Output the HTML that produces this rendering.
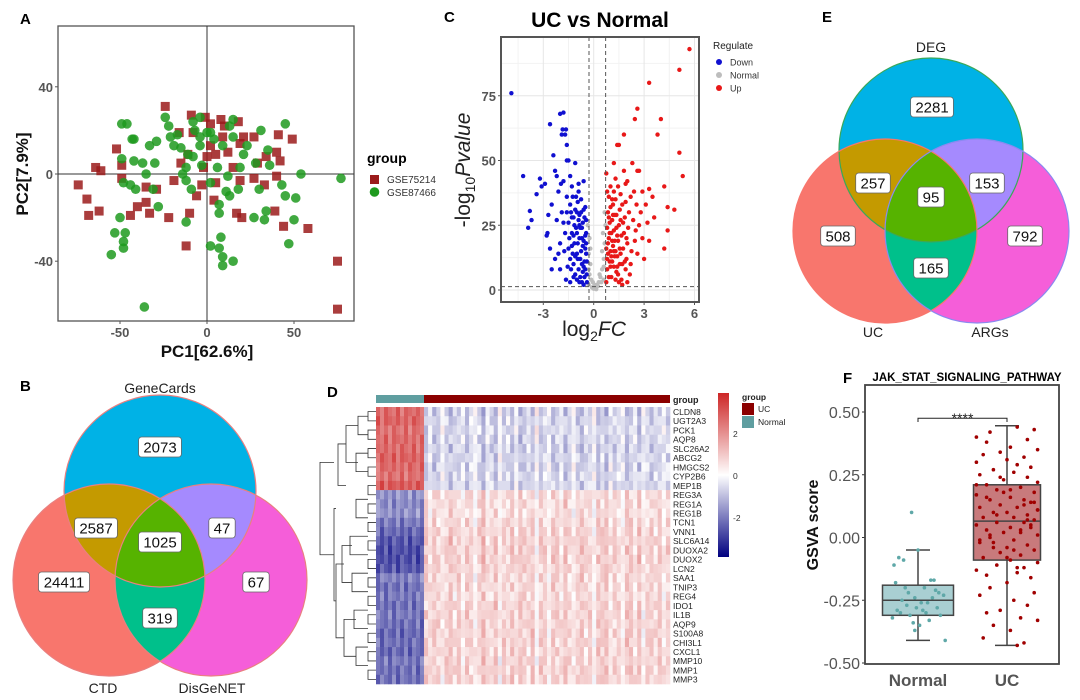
<!DOCTYPE html>
<html><head><meta charset="utf-8">
<style>
html,body{margin:0;padding:0;background:#fff;}
svg{display:block;font-family:"Liberation Sans",sans-serif;}
</style></head>
<body>
<svg id="fig" width="1080" height="700" viewBox="0 0 1080 700" xmlns="http://www.w3.org/2000/svg">
<defs>
<clipPath id="cBA"><circle cx="160" cy="491" r="96"/></clipPath>
<clipPath id="cBB"><circle cx="109" cy="580" r="96"/></clipPath>
<clipPath id="cBC"><circle cx="211" cy="580" r="96"/></clipPath>
<clipPath id="cEA"><circle cx="931" cy="150" r="92"/></clipPath>
<clipPath id="cEB"><circle cx="885" cy="231" r="92"/></clipPath>
<clipPath id="cEC"><circle cx="977" cy="231" r="92"/></clipPath>
<clipPath id="cBAB" clip-path="url(#cBB)"><circle cx="160" cy="491" r="96"/></clipPath>
<clipPath id="cEAB" clip-path="url(#cEB)"><circle cx="931" cy="150" r="92"/></clipPath>
</defs>
<g id="panelA"></g>
<g id="panelB"></g>
<g id="panelC"></g>
<g id="panelD"></g>
<g id="panelE"></g>
<g id="panelF"></g>
</svg>
<script>
// ---------- Panel A data ----------
const pcaSquares=[[-24,31],[-74,-5],[-69,-11.5],[-68,-19],[-64,3],[-61,1.5],[-62,-17],[-52,11.5],[-49,4],[-49,-2],[-44,-19],[-40,-15],[-35,-6],[-35,-13],[-33,-18],[-29,-7],[-22,-20],[-19,-3],[-16,19],[-15,5],[-12,-33],[-10,-18],[-11,9],[-9,27],[-8,19],[-6,-10],[-3,-5],[-1,26],[2,23],[4,-12],[5,-4],[5,9],[8,25],[9,17],[12,10],[15,3],[18,24],[19,14],[17,-18],[20,-20],[19,-3],[21,17],[27,-2],[27,17],[29,5],[33,-5],[34,8],[39,-17],[40,-1],[41,18],[42,6],[40,10],[44,-24],[49,16],[58,-25],[75,-40],[75,-62],[0,8],[-2,3],[10,22],[2,13]];
const pcaCircles=[[-49,23],[-46,23],[-43,16],[-42,16],[-49,7],[-48,-4],[-42,6],[-37,5],[-35,0],[-30,5],[-33,13],[-29,15],[-41,-7],[-44,-5],[-31,-7],[-28,-15],[-50,-20],[-53,-27],[-47,-27],[-48,-31],[-48,-34],[-55,-37],[-36,-61],[-24,26],[-22,22],[-21,17],[-19,13],[-17,18],[-15,12],[-14,0],[-12,-3],[-12,3],[-9,-7],[-8,24],[-7,20],[-4,17],[-4,13],[-3,4],[-12,-22],[-4,26],[2,19],[4,16],[2,-4],[6,3],[2,-33],[7,-14],[7,-18],[8,-29],[7,-34],[9,-38],[9,-42],[15,-40],[11,-8],[12,-1],[13,-10],[15,25],[13,22],[15,17],[18,-7],[19,3],[21,9],[23,13],[28,5],[30,-7],[31,20],[27,-20],[33,-21],[34,-17],[35,11],[36,4],[43,-5],[45,-10],[45,23],[51,-11],[50,-21],[47,-32],[54,0],[77,-2],[9,13],[0,19],[-8,8],[-11,9]];
const pcaXTicks=[-50,0,50];
const pcaYTicks=[40,0,-40];
// ---------- Panel C data ----------
const downPts=[[-4.9,76],[-4.2,44],[-3.9,24],[-3.8,30.5],[-3.7,27],[-3.4,37],[-3.2,43],[-3.1,40],[-2.9,41],[-2.8,21],[-2.75,22],[-2.7,29],[-2.6,64],[-2.5,33],[-2.4,52],[-2.3,46],[-2.2,44],[-2.2,27],[-2.1,38],[-2.0,68],[-1.9,60],[-1.85,62],[-1.8,68.5],[-1.7,60],[-1.65,62],[-1.6,56],[-1.6,50],[-1.8,42],[-1.95,41],[-2.0,18],[-2.3,12],[-2.0,8],[-1.5,50],[-1.4,44],[-1.3,40],[-1.1,49],[-0.9,41],[-0.6,42],[-1.6,30],[-1.5,26],[-1.4,33],[-1.3,22],[-1.25,36],[-1.2,28],[-1.15,18],[-1.1,31],[-1.05,24],[-1.0,14],[-0.95,34],[-0.9,27],[-0.85,20],[-0.8,12],[-0.75,30],[-0.7,24],[-0.65,17],[-0.6,9],[-0.55,28],[-0.5,21],[-0.45,14],[-0.42,6],[-0.4,3],[-1.5,16],[-1.4,12],[-1.35,8],[-1.2,10],[-1.1,6],[-1.0,4],[-0.9,8],[-0.8,5],[-0.7,3],[-0.6,2],[-1.7,22],[-1.8,26],[-1.75,15],[-1.9,30],[-1.45,20],[-1.25,14],[-1.15,25],[-0.95,18],[-0.85,29],[-0.75,15],[-0.65,26],[-0.55,11],[-0.5,32],[-0.45,22],[-1.05,36],[-0.9,38],[-1.3,28],[-1.6,36],[-1.0,22],[-0.8,24],[-0.6,19],[-0.7,10],[-1.2,5],[-1.35,30],[-0.5,16],[-0.55,5],[-0.65,7],[-0.85,3],[-1.1,13],[-1.55,9],[-1.65,4],[-2.1,14],[-2.5,8],[-2.6,16],[-0.4,11],[-0.45,27],[-1.0,30],[-0.75,35],[-1.4,3],[-0.95,12],[-0.7,20],[-0.5,8],[-1.3,17],[-0.85,25],[-0.6,31],[-1.2,21],[-0.45,18]];
const upPts=[[5.7,93],[5.1,85],[3.3,80],[2.6,70],[2.45,66],[4.0,66],[3.8,60],[5.1,53],[5.3,44],[4.2,40],[4.4,32],[4.8,31],[4.2,16],[4.4,23],[3.3,19],[3.5,36],[3.1,33],[2.9,38],[2.8,30],[2.3,49],[2.6,46],[2.7,46],[2.4,38],[1.8,60],[1.5,56],[1.4,56],[1.2,49],[1.8,46],[2.0,42],[1.3,43],[0.75,45],[2.5,23],[2.9,20],[3.0,12],[3.2,26],[3.6,28],[2.2,10],[1.9,8],[2.6,14],[3.3,39],[0.75,3],[0.8,8],[0.85,14],[0.9,20],[0.95,26],[1.0,32],[1.05,5],[1.1,11],[1.15,17],[1.2,23],[1.25,29],[1.3,35],[1.35,7],[1.4,13],[1.45,19],[1.5,25],[1.55,31],[1.6,37],[1.65,4],[1.7,10],[1.75,16],[1.8,22],[1.85,28],[1.9,34],[1.95,12],[2.0,18],[2.05,24],[2.1,30],[2.15,6],[0.8,24],[0.85,30],[0.9,36],[0.75,16],[1.0,40],[1.1,27],[1.2,9],[1.3,15],[1.4,21],[1.5,3],[1.6,27],[1.7,33],[0.95,11],[1.05,22],[1.15,33],[1.25,13],[1.35,24],[1.45,6],[1.55,16],[1.65,21],[1.75,26],[1.85,11],[1.95,20],[2.25,15],[2.35,27],[2.45,19],[2.55,33],[2.7,25],[0.8,38],[1.2,38],[1.45,40],[0.9,5],[1.0,15],[1.1,19],[1.25,19],[1.35,29],[1.55,10],[1.7,2],[2.0,3],[2.2,36],[1.9,41],[0.85,18],[1.0,9],[1.15,29],[1.3,4],[1.05,13],[0.9,28],[1.2,15],[1.4,9],[1.6,14],[0.8,12],[0.95,22],[1.1,35]];
const grayPts=[[-0.3,2],[-0.25,6],[-0.2,10],[-0.3,14],[-0.25,20],[-0.35,25],[0,0.5],[0.1,1],[0.2,2],[-0.1,1],[0.3,3],[0.4,5],[0.5,8],[0.6,12],[0.65,18],[0.55,22],[0.7,25],[0.45,3],[-0.15,4],[0.05,2],[0.15,0.3],[0.25,1.5],[0.35,6],[0.6,4],[-0.05,3],[0.5,15],[-0.3,8],[0.65,30],[0.6,9],[-0.2,16]];
const volXTicks=[-3,0,3,6];
const volYTicks=[0,25,50,75];
// ---------- Panel D data ----------
const genes=["CLDN8","UGT2A3","PCK1","AQP8","SLC26A2","ABCG2","HMGCS2","CYP2B6","MEP1B","REG3A","REG1A","REG1B","TCN1","VNN1","SLC6A14","DUOXA2","DUOX2","LCN2","SAA1","TNIP3","REG4","IDO1","IL1B","AQP9","S100A8","CHI3L1","CXCL1","MMP10","MMP1","MMP3"];
const normalMean=[2.0,2.1,1.9,2.0,2.0,2.1,2.0,1.9,2.2,-1.3,-1.4,-1.3,-1.6,-1.8,-2.0,-2.1,-2.1,-2.0,-1.5,-1.7,-1.6,-1.7,-1.6,-1.7,-1.8,-1.7,-1.8,-1.6,-1.7,-1.7];
const ucMean=[-0.4,-0.35,-0.3,-0.35,-0.4,-0.35,-0.35,-0.3,-0.35,0.35,0.35,0.3,0.4,0.45,0.5,0.5,0.5,0.45,0.4,0.4,0.35,0.45,0.45,0.45,0.45,0.45,0.45,0.45,0.5,0.45];
const colEffect=[0.3,-0.2,0.5,0.1,-0.4,0.2,0.6,-0.1,0.3,-0.3,0.4,0.0,-0.5,0.2,0.7,-0.2,0.1,0.5,-0.6,0.3,0.0,0.4,-0.3,0.6,0.2,-0.1,0.5,-0.7,0.3,0.1,-0.4,0.4,0.2,-0.2,0.6,0.0,-0.5,0.3,0.5,-0.1,0.2,-0.6,0.4,0.1,0.7,-0.3,0.2,0.0,-0.4,0.5,0.3,-0.2,0.6,-0.5,0.1,0.4,-0.1,0.3,-0.3,0.2];
const normalEffect=[0.2,-0.3,0.4,0.0,-0.2,0.5,-0.4,0.3,0.1,-0.1,0.3,-0.2];
// ---------- Panel F data ----------
const boxCats=["Normal","UC"];
const boxStats=[[-0.41,-0.31,-0.25,-0.19,-0.05],[-0.43,-0.09,0.065,0.21,0.445]];
const normalVals=[0.10,-0.05,-0.08,-0.09,-0.11,-0.17,-0.17,-0.18,-0.20,-0.21,-0.22,-0.22,-0.23,-0.24,-0.25,-0.26,-0.26,-0.27,-0.28,-0.28,-0.29,-0.29,-0.30,-0.30,-0.31,-0.31,-0.32,-0.33,-0.34,-0.35,-0.37,-0.41,-0.24,-0.20];
const normalJit=[-0.2,0.0,-0.6,-0.45,-0.75,0.4,0.5,-0.7,0.2,0.55,0.65,-0.3,0.8,-0.1,-0.5,0.1,0.3,-0.35,0.6,-0.05,0.15,-0.65,-0.55,0.25,0.7,-0.25,-0.8,0.35,-0.15,0.05,-0.1,0.85,0.45,-0.4];
const ucVals=[0.44,0.43,0.42,0.40,0.39,0.38,0.36,0.35,0.34,0.33,0.32,0.31,0.30,0.29,0.28,0.27,0.26,0.25,0.24,0.23,0.22,0.21,0.20,0.19,0.18,0.17,0.16,0.15,0.15,0.14,0.13,0.12,0.12,0.11,0.10,0.10,0.09,0.08,0.08,0.07,0.06,0.06,0.05,0.04,0.04,0.03,0.02,0.02,0.01,0.00,-0.01,-0.02,-0.03,-0.04,-0.04,-0.05,-0.06,-0.07,-0.08,-0.09,-0.10,-0.11,-0.12,-0.13,-0.14,-0.15,-0.16,-0.18,-0.20,-0.22,-0.23,-0.25,-0.27,-0.29,-0.30,-0.32,-0.33,-0.35,-0.37,-0.40,-0.42,-0.43,0.18,0.13,0.09,0.05,-0.01,-0.05,0.11,0.16,0.03,-0.08,0.21,0.07,-0.02,0.14,0.24,-0.12,0.01,0.19];
const ucJit=[0.3,0.8,-0.5,-0.9,0.6,-0.6,0.1,0.9,-0.2,-0.7,0.5,0.0,-0.9,0.3,0.7,-0.4,0.2,-0.8,0.6,-0.1,0.9,-0.6,0.4,-0.3,0.8,-0.9,0.1,0.5,-0.5,0.7,-0.2,0.3,-0.8,0.9,-0.4,0.0,0.6,-0.7,0.2,0.8,-0.3,0.5,-0.9,0.1,0.7,-0.6,0.4,-0.1,0.9,-0.5,0.2,-0.8,0.6,0.0,-0.4,0.8,-0.2,0.4,-0.7,0.1,0.9,-0.3,0.5,-0.9,0.3,-0.6,0.7,0.0,-0.5,0.8,-0.8,0.2,0.6,-0.2,-0.6,0.4,0.9,-0.4,0.1,-0.7,0.5,0.3,-0.1,0.5,-0.3,0.7,-0.8,0.2,0.9,-0.6,0.4,0.0,-0.9,0.6,-0.4,0.8,-0.2,0.3,-0.5,0.1];
const fTicks=[0.5,0.25,0,-0.25,-0.5];

const NS="http://www.w3.org/2000/svg";
function mk(parent,tag,attrs,text){const e=document.createElementNS(NS,tag);for(const k in attrs)e.setAttribute(k,attrs[k]);if(text!==undefined)e.textContent=text;parent.appendChild(e);return e;}

// ===== Panel A =====
(function(){
const g=document.getElementById('panelA');
const sx=v=>207+v*1.74, sy=v=>174-v*2.18;
let t=mk(g,'text',{x:20,y:24,'font-size':15,'font-weight':'bold'},'A');


let r=mk(g,'rect',{x:58,y:26,width:296,height:295,fill:'#fff',stroke:'#555','stroke-width':1.3});


mk(g,'line',{x1:sx(0),x2:sx(0),y1:26,y2:321,stroke:'#333','stroke-width':1});
mk(g,'line',{x1:58,x2:354,y1:sy(0),y2:sy(0),stroke:'#333','stroke-width':1});
pcaXTicks.forEach(v=>{mk(g,'line',{x1:sx(v),x2:sx(v),y1:321,y2:324,stroke:'#555'});
 const e=mk(g,'text',{x:sx(v),y:337,'text-anchor':'middle','font-size':13,'font-weight':'bold',fill:'#555'},v);
 
 });
pcaYTicks.forEach(v=>{mk(g,'line',{x1:55,x2:58,y1:sy(v),y2:sy(v),stroke:'#555'});
 const e=mk(g,'text',{x:53,y:sy(v)+5,'text-anchor':'end','font-size':13,'font-weight':'bold',fill:'#555'},v);
 
 });
pcaSquares.forEach(p=>{const e=mk(g,'rect',{x:sx(p[0])-4.5,y:sy(p[1])-4.5,width:9,height:9,fill:'#9b1b1b','fill-opacity':0.85});
 
 });
pcaCircles.forEach(p=>{const e=mk(g,'circle',{cx:sx(p[0]),cy:sy(p[1]),r:4.8,fill:'#1e9a1e','fill-opacity':0.85});
 
 });
t=mk(g,'text',{x:207,y:357,'text-anchor':'middle','font-size':17,'font-weight':'bold',fill:'#111'},'PC1[62.6%]');


t=mk(g,'text',{x:0,y:0,'text-anchor':'middle','font-size':17,'font-weight':'bold',fill:'#111',transform:'translate(28,174) rotate(-90)'},'PC2[7.9%]');


t=mk(g,'text',{x:367,y:163,'font-size':14,'font-weight':'bold'},'group');


let le=mk(g,'rect',{x:370,y:175,width:9,height:9,fill:'#9b1b1b'});


mk(g,'text',{x:387,y:183,'font-size':10,fill:'#333'},'GSE75214');
le=mk(g,'circle',{cx:374.5,cy:192,r:4.8,fill:'#1e9a1e'});


mk(g,'text',{x:387,y:196,'font-size':10,fill:'#333'},'GSE87466');
})();

// ===== Venn helper =====
function venn(gid,A,B,C,r,cols,nums,labels,labelName,clipA,clipB,clipC,clipAB,strokes){
const g=document.getElementById(gid);
const base=[[A,cols[0]],[B,cols[1]],[C,cols[2]]];
base.forEach((c,i)=>{const e=mk(g,'circle',{cx:c[0][0],cy:c[0][1],r:r,fill:c[1]});
 
 });
mk(g,'circle',{cx:A[0],cy:A[1],r:r,fill:cols[3],'clip-path':'url(#'+clipB+')'});
mk(g,'circle',{cx:A[0],cy:A[1],r:r,fill:cols[4],'clip-path':'url(#'+clipC+')'});
mk(g,'circle',{cx:B[0],cy:B[1],r:r,fill:cols[5],'clip-path':'url(#'+clipC+')'});
mk(g,'circle',{cx:C[0],cy:C[1],r:r,fill:cols[6],'clip-path':'url(#'+clipAB+')'});
base.forEach((c,i)=>mk(g,'circle',{cx:c[0][0],cy:c[0][1],r:r,fill:'none',stroke:strokes[i],'stroke-width':1.2}));
nums.forEach(n=>{const w=n[0].length*8.2+10;
 const bx=mk(g,'rect',{x:n[1]-w/2,y:n[2]-10,width:w,height:20,rx:3,fill:'#fff',stroke:'#666','stroke-width':0.8});
 
 
 mk(g,'text',{x:n[1],y:n[2]+5.5,'text-anchor':'middle','font-size':15,fill:'#111'},n[0]);});
labels.forEach(l=>{const e=mk(g,'text',{x:l[1],y:l[2],'text-anchor':'middle','font-size':14,fill:'#222'},l[0]);
 
 });
}
const vennCols=['#00b2e6','#f8766d','#f55ed9','#c49a00','#a58afe','#00c08b','#56b300'];
venn('panelB',[160,491],[109,580],[211,580],96,vennCols,
 [['2073',160,447],['2587',96,528],['1025',160,542],['47',222,528],['24411',64,582],['67',256,582],['319',160,618]],
 [['GeneCards',160,393],['CTD',103,693],['DisGeNET',212,693]],'venn-b','cBA','cBB','cBC','cBAB',['#e98080','#e98080','#e98080']);
venn('panelE',[931,150],[885,231],[977,231],92,vennCols,
 [['2281',932,107],['257',873,183],['95',931,197],['153',987,183],['508',838,236],['792',1025,236],['165',931,268]],
 [['DEG',931,52],['UC',873,337],['ARGs',990,337]],'venn-e','cEA','cEB','cEC','cEAB',['#3aa85a','#f8766d','#8a8af0']);
(function(){let t=mk(document.getElementById('panelB'),'text',{x:20,y:391,'font-size':15,'font-weight':'bold'},'B');


t=mk(document.getElementById('panelE'),'text',{x:822,y:22,'font-size':15,'font-weight':'bold'},'E');

})();

// ===== Panel C =====
(function(){
const g=document.getElementById('panelC');
const sx=v=>593.7+v*16.8, sy=v=>290-v*2.59;
let t=mk(g,'text',{x:444,y:22,'font-size':15,'font-weight':'bold'},'C');


t=mk(g,'text',{x:600,y:27,'text-anchor':'middle','font-size':21,'font-weight':'bold'},'UC vs Normal');


mk(g,'rect',{x:501,y:37,width:198,height:265,fill:'#fff'});
[-4.5,-1.5,1.5,4.5].forEach(v=>mk(g,'line',{x1:sx(v),x2:sx(v),y1:37,y2:302,stroke:'#f2f2f2'}));
[12.5,37.5,62.5,87.5].forEach(v=>mk(g,'line',{x1:501,x2:699,y1:sy(v),y2:sy(v),stroke:'#f2f2f2'}));
volXTicks.forEach(v=>{mk(g,'line',{x1:sx(v),x2:sx(v),y1:37,y2:302,stroke:'#e6e6e6'});
 mk(g,'line',{x1:sx(v),x2:sx(v),y1:302,y2:305,stroke:'#555'});
 const e=mk(g,'text',{x:sx(v),y:318,'text-anchor':'middle','font-size':13,'font-weight':'bold',fill:'#555'},v);
 
 });
volYTicks.forEach(v=>{mk(g,'line',{x1:501,x2:699,y1:sy(v),y2:sy(v),stroke:'#e6e6e6'});
 mk(g,'line',{x1:498,x2:501,y1:sy(v),y2:sy(v),stroke:'#555'});
 const e=mk(g,'text',{x:496,y:sy(v)+5,'text-anchor':'end','font-size':13,'font-weight':'bold',fill:'#555'},v);
 
 });
grayPts.forEach(p=>{const e=mk(g,'circle',{cx:sx(p[0]),cy:sy(p[1]),r:2.2,fill:'#bdbdbd'});
 
 });
downPts.forEach(p=>{const e=mk(g,'circle',{cx:sx(p[0]),cy:sy(p[1]),r:2.2,fill:'#1010d0'});
 
 });
upPts.forEach(p=>{const e=mk(g,'circle',{cx:sx(p[0]),cy:sy(p[1]),r:2.2,fill:'#e81818'});
 
 });
[-0.28,0.71].forEach(v=>mk(g,'line',{x1:sx(v),x2:sx(v),y1:37,y2:302,stroke:'#555','stroke-dasharray':'4,3'}));
mk(g,'line',{x1:501,x2:699,y1:sy(1.3),y2:sy(1.3),stroke:'#555','stroke-dasharray':'4,3'});
let b=mk(g,'rect',{x:501,y:37,width:198,height:265,fill:'none',stroke:'#555','stroke-width':2});


t=mk(g,'text',{x:594,y:336,'text-anchor':'middle','font-size':21,fill:'#222'});
t.innerHTML='log<tspan font-size="14" dy="5">2</tspan><tspan dy="-5" font-style="italic">FC</tspan>';


t=mk(g,'text',{x:0,y:0,'text-anchor':'middle','font-size':21,fill:'#222',transform:'translate(470,170) rotate(-90)'});
t.innerHTML='-log<tspan font-size="14" dy="5">10</tspan><tspan dy="-5" font-style="italic">Pvalue</tspan>';


t=mk(g,'text',{x:713,y:49,'font-size':10,fill:'#222'},'Regulate');


[['Down','#1010d0',62],['Normal','#bdbdbd',75],['Up','#e81818',88]].forEach(l=>{
 const e=mk(g,'circle',{cx:719,cy:l[2],r:3,fill:l[1]});
 
 
 mk(g,'text',{x:730,y:l[2]+3.5,'font-size':9,fill:'#333'},l[0]);});
})();

// ===== Panel D =====
(function(){
const g=document.getElementById('panelD');
let t=mk(g,'text',{x:327,y:397,'font-size':15,'font-weight':'bold'},'D');


const x0=376,xN=424,x1=670,top=407,rowH=(684-407)/genes.length;
function col(v){v=Math.max(-3,Math.min(3,v));
 if(v<0){const f=-v/3;return `rgb(${Math.round(255-255*f)},${Math.round(255-255*f)},${Math.round(255-127*f)})`;}
 const f=v/3;return `rgb(${Math.round(255-50*f)},${Math.round(255-217*f)},${Math.round(255-217*f)})`;}
let e=mk(g,'rect',{x:x0,y:395,width:xN-x0,height:8,fill:'#5f9ea0'});


e=mk(g,'rect',{x:xN,y:395,width:x1-xN,height:8,fill:'#8b0000'});


mk(g,'text',{x:673,y:403,'font-size':9,'font-weight':'bold',fill:'#222'},'group');
const nw=(xN-x0)/normalEffect.length, uw=(x1-xN)/colEffect.length;
genes.forEach((gn,i)=>{
 const sign=i<9?-1:1;
 normalEffect.forEach((c,j)=>{const c1=mk(g,'rect',{x:x0+j*nw,y:top+i*rowH,width:nw+0.3,height:rowH+0.3,fill:col(normalMean[i]+normalEffect[(j+i*5)%normalEffect.length]*0.9)});
  
  });
 colEffect.forEach((c,j)=>{const c1=mk(g,'rect',{x:xN+j*uw,y:top+i*rowH,width:uw+0.3,height:rowH+0.3,fill:col(ucMean[i]+sign*(0.6*c+0.6*colEffect[(j+i*7)%colEffect.length]))});
  
  });
 const l=mk(g,'text',{x:673,y:top+i*rowH+rowH/2+3.3,'font-size':8.5,fill:'#222'},gn);
 
 
});
const ry=i=>top+i*rowH+rowH/2;
const dl=(x1a,y1a,x2a,y2a)=>mk(g,'path',{d:`M${x2a},${y1a}H${x1a}V${y2a}H${x2a}`,fill:'none',stroke:'#333','stroke-width':0.8});
for(let i=0;i<29;i+=2){dl(368,ry(i),376,ry(i+1));}
dl(358,(ry(0)+ry(1))/2,368,(ry(2)+ry(3))/2);
dl(356,(ry(4)+ry(5))/2,368,(ry(6)+ry(7))/2);
dl(346,ry(1.5),358,ry(5.5));
dl(338,ry(3.5),346,ry(8));
dl(356,ry(9.5),368,ry(11.5));
dl(350,ry(13.5),368,ry(15.5));
dl(352,ry(17.5),368,ry(19.5));
dl(354,ry(21.5),368,ry(23.5));
dl(356,ry(25.5),368,ry(27.5));
dl(342,ry(14.5),352,ry(18.5));
dl(344,ry(22.5),356,ry(26.5));
dl(336,ry(16.5),344,ry(24.5));
dl(334,ry(10.5),336,ry(20.5));
dl(320,ry(5.5),334,ry(15.5));
const lg=mk(g,'defs',{});
const gr=mk(lg,'linearGradient',{id:'hmgrad',x1:0,y1:0,x2:0,y2:1});
mk(gr,'stop',{offset:'0',['stop-color']:col(3)});
mk(gr,'stop',{offset:'0.5',['stop-color']:col(0)});
mk(gr,'stop',{offset:'1',['stop-color']:col(-3)});
e=mk(g,'rect',{x:718,y:393,width:11,height:164,fill:'url(#hmgrad)'});


[['2',434],['0',476],['-2',518]].forEach(tk=>mk(g,'text',{x:733,y:tk[1]+3,'font-size':8.5,fill:'#333'},tk[0]));
mk(g,'text',{x:742,y:400,'font-size':8.5,'font-weight':'bold',fill:'#222'},'group');
e=mk(g,'rect',{x:742,y:403,width:12,height:12,fill:'#8b0000'});


mk(g,'text',{x:758,y:412,'font-size':8.5,fill:'#222'},'UC');
e=mk(g,'rect',{x:742,y:416,width:12,height:12,fill:'#5f9ea0'});


mk(g,'text',{x:758,y:425,'font-size':8.5,fill:'#222'},'Normal');
})();

// ===== Panel F =====
(function(){
const g=document.getElementById('panelF');
const sy=v=>537.5-v*251;
const cx=[918,1007], bw=[71,67];
let t=mk(g,'text',{x:843,y:383,'font-size':15,'font-weight':'bold'},'F');


t=mk(g,'text',{x:967,y:381,'text-anchor':'middle','font-size':11.5,'font-weight':'bold'},'JAK_STAT_SIGNALING_PATHWAY');


fTicks.forEach(v=>{mk(g,'line',{x1:862,x2:865,y1:sy(v),y2:sy(v),stroke:'#333'});
 const e=mk(g,'text',{x:860,y:sy(v)+6,'text-anchor':'end','font-size':16,fill:'#555'},v.toFixed(2));
 
 });
const fills=['#a9cfd2','#c87a7c'], pc=['#5fa8a8','#a00000'];
boxStats.forEach((s,i)=>{
 mk(g,'line',{x1:cx[i],x2:cx[i],y1:sy(s[0]),y2:sy(s[4]),stroke:'#444','stroke-width':1.5});
 mk(g,'line',{x1:cx[i]-12,x2:cx[i]+12,y1:sy(s[0]),y2:sy(s[0]),stroke:'#444','stroke-width':1.5});
 mk(g,'line',{x1:cx[i]-12,x2:cx[i]+12,y1:sy(s[4]),y2:sy(s[4]),stroke:'#444','stroke-width':1.5});
 const b=mk(g,'rect',{x:cx[i]-bw[i]/2,y:sy(s[3]),width:bw[i],height:sy(s[1])-sy(s[3]),fill:fills[i],stroke:'#444','stroke-width':1.5});
 
 
 mk(g,'line',{x1:cx[i]-bw[i]/2,x2:cx[i]+bw[i]/2,y1:sy(s[2]),y2:sy(s[2]),stroke:'#444','stroke-width':1.5});
 const l=mk(g,'text',{x:cx[i],y:686,'text-anchor':'middle','font-size':17,'font-weight':'bold',fill:'#555'},boxCats[i]);
 
 
});
normalVals.forEach((v,i)=>{const e=mk(g,'circle',{cx:cx[0]+normalJit[i]*32,cy:sy(v),r:1.8,fill:pc[0]});
 
 });
ucVals.forEach((v,i)=>{const e=mk(g,'circle',{cx:cx[1]+ucJit[i]*34,cy:sy(v),r:1.8,fill:pc[1]});
 
 });
mk(g,'path',{d:`M${cx[0]},${sy(0.46)}V${sy(0.475)}H${cx[1]}V${sy(0.46)}`,fill:'none',stroke:'#222','stroke-width':1});
t=mk(g,'text',{x:(cx[0]+cx[1])/2,y:sy(0.48)+6,'text-anchor':'middle','font-size':14,fill:'#222'},'****');


const fr=mk(g,'rect',{x:865,y:385,width:194,height:279,fill:'none',stroke:'#444','stroke-width':1.8});


t=mk(g,'text',{x:0,y:0,'text-anchor':'middle','font-size':16,'font-weight':'bold',fill:'#111',transform:'translate(818,525) rotate(-90)'},'GSVA score');


})();
</script>
</body></html>
